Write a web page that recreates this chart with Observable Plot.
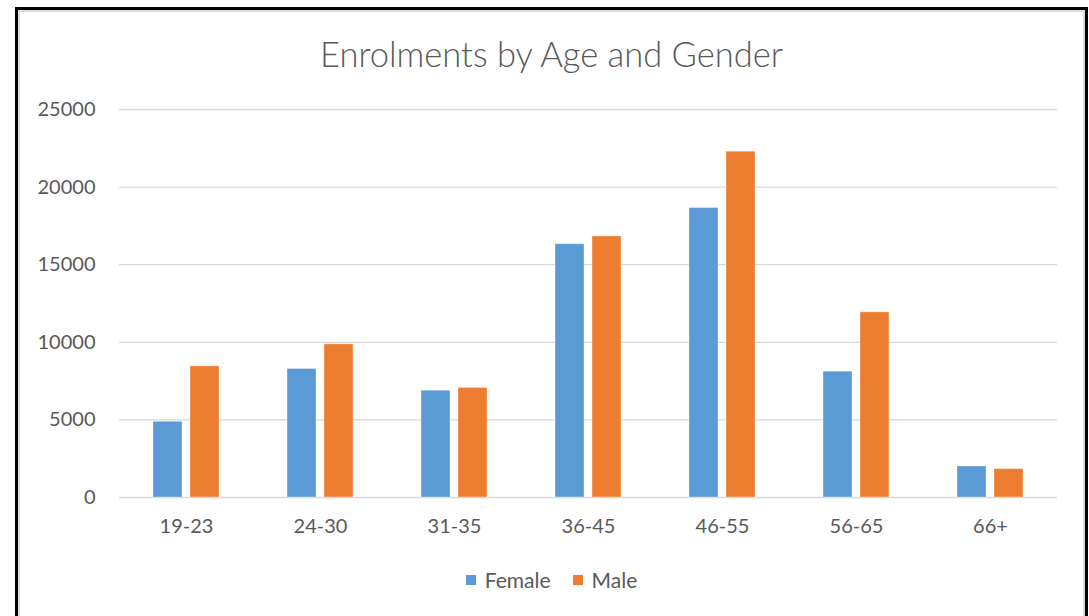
<!DOCTYPE html>
<html>
<head>
<meta charset="utf-8">
<script src="https://cdn.jsdelivr.net/npm/d3@7"></script>
<script src="https://cdn.jsdelivr.net/npm/@observablehq/plot@0.6"></script>
<style>
  html, body { margin: 0; padding: 0; background: #fff; }
  #page { position: relative; width: 1089px; height: 616px; overflow: hidden; font-family: Lato, "Open Sans", sans-serif; color: #595959; }
  #frame { position: absolute; left: 15px; top: 7px; width: 1067px; height: 700px; border: 3px solid #000; box-shadow: inset 0 0 0 2px #dcdcdc; z-index: 3; pointer-events: none; }
  #title { position: absolute; left: 15px; width: 1073px; top: 37px; text-align: center; font-size: 34.5px; font-weight: 300; line-height: 1; z-index: 2; }
  #chart { position: absolute; left: 0; top: 0; z-index: 1; }
  #legend { position: absolute; left: 15px; width: 1073px; top: 568px; display: flex; justify-content: center; gap: 22px; font-size: 21px; line-height: 24px; z-index: 2; }
  #legend span.item { display: flex; align-items: center; gap: 9px; }
  #legend i { display: inline-block; width: 10px; height: 10px; }
</style>
</head>
<body>
<div id="page">
  <div id="frame"></div>
  <div id="title">Enrolments by Age and Gender</div>
  <div id="chart"></div>
  <div id="legend"></div>
</div>
<script>
// Age bands and enrolment counts per gender
const ageGroups = ["19-23", "24-30", "31-35", "36-45", "46-55", "56-65", "66+"];
const female = [4880, 8280, 6880, 16320, 18650, 8110, 2000];
const male = [8450, 9870, 7060, 16820, 22280, 11930, 1830];
const genders = ["Female", "Male"];
const genderColors = ["#5b9bd5", "#ed7d31"];
const yTicks = [0, 5000, 10000, 15000, 20000, 25000];

const rows = ageGroups.flatMap((age, i) => [
  {age, gender: "Female", value: female[i]},
  {age, gender: "Male", value: male[i]}
]);

const chart = Plot.plot({
  width: 1089,
  height: 616,
  marginLeft: 117,
  marginRight: 31,
  marginTop: 109,
  marginBottom: 119,
  style: {background: "transparent", fontSize: "20px", fontFamily: "Lato, 'Open Sans', sans-serif", color: "#595959"},
  fx: {domain: ageGroups, padding: 0, axis: "bottom", label: null, tickSize: 0, tickPadding: 21},
  x: {domain: genders, paddingInner: 0.21, paddingOuter: 0.874, axis: null},
  y: {domain: [0, 25000], ticks: yTicks, tickFormat: "d", tickSize: 0, tickPadding: 24, label: null},
  color: {domain: genders, range: genderColors},
  marks: [
    Plot.ruleY(yTicks, {stroke: "#d9d9d9", strokeWidth: 1.3}),
    Plot.barY(rows, {fx: "age", x: "gender", y: "value", fill: "gender", stroke: "#ffffff", strokeOpacity: 0.35, strokeWidth: 1})
  ]
});
document.getElementById("chart").appendChild(chart);

// Legend swatches under the plot
const legend = document.getElementById("legend");
genders.forEach((g, i) => {
  const item = document.createElement("span");
  item.className = "item";
  const sw = document.createElement("i");
  sw.style.background = genderColors[i];
  item.appendChild(sw);
  item.appendChild(document.createTextNode(g));
  legend.appendChild(item);
});
</script>
</body>
</html>
